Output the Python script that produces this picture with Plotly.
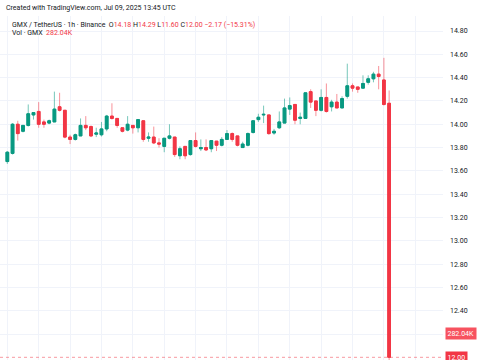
import plotly.graph_objects as go
from datetime import datetime, timedelta

# ---- data (hourly GMX/USDT candles) ----
opens = [13.68, 13.75, 14.00, 13.94, 13.99, 14.08, 14.11, 14.02, 14.01, 14.02,
         14.15, 14.12, 13.89, 13.87, 13.90, 13.99, 13.98, 13.915, 13.91, 13.96,
         14.07, 14.05, 13.97, 13.95, 13.99, 13.97, 14.03, 13.88, 13.89, 13.84,
         13.81, 13.88, 13.89, 13.73, 13.81, 13.74, 13.86, 13.79, 13.80, 13.79,
         13.855, 13.82, 13.87, 13.92, 13.90, 13.80, 13.82, 13.93, 14.04, 14.08,
         14.08, 13.925, 13.97, 14.01, 14.13, 14.17, 14.05, 14.05, 14.28, 14.20,
         14.12, 14.23, 14.15, 14.19, 14.14, 14.24, 14.33, 14.32, 14.31, 14.36,
         14.39, 14.43, 14.38, 14.18]
highs = [13.77, 14.01, 14.03, 13.99, 14.17, 14.10, 14.19, 14.04, 14.04, 14.28,
         14.27, 14.12, 13.91, 13.92, 14.05, 14.07, 13.99, 13.97, 14.02, 14.08,
         14.18, 14.05, 13.97, 14.07, 13.99, 14.04, 14.03, 13.93, 13.98, 13.88,
         13.88, 14.00, 13.89, 13.81, 13.81, 13.86, 13.93, 13.87, 13.87, 13.86,
         13.855, 13.89, 13.95, 13.93, 13.90, 13.85, 13.93, 14.03, 14.09, 14.16,
         14.08, 13.96, 14.11, 14.22, 14.23, 14.17, 14.10, 14.27, 14.30, 14.20,
         14.30, 14.35, 14.21, 14.26, 14.24, 14.52, 14.35, 14.32, 14.42, 14.42,
         14.45, 14.50, 14.57, 14.29]
lows = [13.66, 13.74, 13.86, 13.93, 13.98, 14.04, 13.97, 13.97, 14.00, 14.02,
        14.11, 13.88, 13.83, 13.86, 13.90, 13.95, 13.89, 13.89, 13.895, 13.94,
        14.04, 13.97, 13.93, 13.94, 13.92, 13.93, 13.85, 13.85, 13.83, 13.80,
        13.76, 13.87, 13.72, 13.70, 13.70, 13.73, 13.80, 13.77, 13.77, 13.76,
        13.77, 13.81, 13.87, 13.85, 13.81, 13.80, 13.81, 13.92, 14.02, 14.01,
        13.91, 13.91, 13.96, 14.01, 14.08, 14.00, 14.00, 14.05, 14.14, 14.07,
        14.11, 14.10, 14.11, 14.14, 14.14, 14.22, 14.28, 14.27, 14.31, 14.34,
        14.36, 14.30, 14.16, 11.60]
closes = [13.76, 14.00, 13.92, 13.99, 14.09, 14.10, 14.00, 14.00, 14.03, 14.13,
          14.12, 13.89, 13.87, 13.91, 13.99, 13.97, 13.90, 13.925, 13.96, 14.07,
          14.05, 13.99, 13.94, 14.00, 13.97, 14.04, 13.87, 13.89, 13.84, 13.83,
          13.88, 13.90, 13.74, 13.79, 13.73, 13.86, 13.81, 13.80, 13.78, 13.86,
          13.82, 13.87, 13.92, 13.87, 13.82, 13.83, 13.92, 14.03, 14.06, 14.085,
          13.92, 13.94, 14.02, 14.14, 14.16, 14.035, 14.06, 14.27, 14.19, 14.12,
          14.23, 14.11, 14.19, 14.14, 14.22, 14.33, 14.31, 14.30, 14.35, 14.39,
          14.43, 14.41, 14.17, 12.00]

last_time = datetime(2025, 7, 9, 13, 0)
times = [last_time - timedelta(hours=len(opens) - 1 - i) for i in range(len(opens))]

price_ticks = [12.2, 12.4, 12.6, 12.8, 13.0, 13.2, 13.4, 13.6, 13.8, 14.0, 14.2, 14.4, 14.6, 14.8]
# 12.20 label is hidden behind the volume tag in the reference
price_tick_text = ["", "12.40", "12.60", "12.80", "13.00", "13.20", "13.40",
                   "13.60", "13.80", "14.00", "14.20", "14.40", "14.60", "14.80"]
last_price = 12.00
last_volume_text = "282.04K"
change_text = "−2.17 (−15.31%)"

UP = "#089981"
DOWN = "#f23645"
UP_WICK = "rgba(8,153,129,0.55)"
DOWN_WICK = "rgba(242,54,69,0.55)"
TXT = "#131722"

body_hi = [max(o, c) for o, c in zip(opens, closes)]
body_lo = [min(o, c) for o, c in zip(opens, closes)]

fig = go.Figure()
# wicks (lighter)
fig.add_trace(go.Candlestick(
    x=times, open=opens, high=highs, low=lows, close=closes,
    increasing=dict(line=dict(color=UP_WICK, width=1), fillcolor=UP_WICK),
    decreasing=dict(line=dict(color=DOWN_WICK, width=1), fillcolor=DOWN_WICK),
    whiskerwidth=0, showlegend=False, hoverinfo="skip"))
# bodies (solid)
fig.add_trace(go.Candlestick(
    x=times, open=opens, high=body_hi, low=body_lo, close=closes,
    increasing=dict(line=dict(color=UP, width=1), fillcolor=UP),
    decreasing=dict(line=dict(color=DOWN, width=1), fillcolor=DOWN),
    whiskerwidth=0, showlegend=False))

first_time = times[0]
x0 = first_time - timedelta(hours=1.4)
x1 = first_time + timedelta(hours=83.3)

fig.add_shape(type="line", xref="paper", x0=0, x1=1, yref="y", y0=last_price, y1=last_price,
              line=dict(color="rgba(242,54,69,0.5)", width=1, dash="dot"))

fig.update_layout(
    width=485, height=360,
    margin=dict(l=0, r=42, t=16, b=0),
    paper_bgcolor="white", plot_bgcolor="white",
    font=dict(family="Roboto", size=7, color=TXT),
    boxgap=0.25,
    xaxis=dict(range=[x0, x1], rangeslider=dict(visible=False), showticklabels=False,
               tick0=first_time, dtick=6 * 3600 * 1000, showgrid=True,
               gridcolor="#f0f3fa", gridwidth=1, zeroline=False, showline=False, ticks=""),
    yaxis=dict(side="right", range=[11.977, 14.929], tickvals=price_ticks, ticktext=price_tick_text,
               showgrid=True, gridcolor="#f0f3fa", gridwidth=1, zeroline=False, showline=False,
               ticks="", ticklabelstandoff=6, tickfont=dict(size=7, color=TXT)),
    hovermode=False,
)

red = "color:#f23645"
annotations = [
    dict(text="Created with TradingView.com, Jul 09, 2025 13:45 UTC", x=4, y=360 - 8,
         font=dict(size=7, color=TXT)),
    dict(text=("GMX / TetherUS · 1h · Binance  "
               f"O<span style='{red}'>{opens[-1]:.2f}</span> "
               f"H<span style='{red}'>{highs[-1]:.2f}</span> "
               f"L<span style='{red}'>{lows[-1]:.2f}</span> "
               f"C<span style='{red}'>{closes[-1]:.2f}</span> "
               f"<span style='{red}'>{change_text}</span>"),
         x=10, y=360 - 25, font=dict(size=7, color=TXT)),
    dict(text=f"Vol · GMX  <span style='{red}'>{last_volume_text}</span>", x=10, y=360 - 33.5,
         font=dict(size=7, color=TXT)),
]
for a in annotations:
    fig.add_annotation(xref="paper", yref="paper", x=a["x"] / 443, y=(a["y"] - 0) / 344,
                       text=a["text"], showarrow=False, xanchor="left", yanchor="middle",
                       font=dict(family="Roboto", **a["font"]))

# right-axis labels
fig.add_annotation(xref="paper", yref="paper", x=1.0 + 2 / 443, y=(360 - 333) / 344,
                   text=last_volume_text, showarrow=False, xanchor="left", yanchor="middle",
                   bgcolor="#f7525f", font=dict(family="Roboto", size=7, color="white"),
                   borderpad=1.5)
fig.add_annotation(xref="paper", yref="y", x=1.0 + 2 / 443, y=last_price,
                   text=f"{last_price:.2f}", showarrow=False, xanchor="left", yanchor="middle",
                   bgcolor="#f23645", font=dict(family="Roboto", size=7, color="white"),
                   borderpad=1.5)

fig.write_html("out.html")
